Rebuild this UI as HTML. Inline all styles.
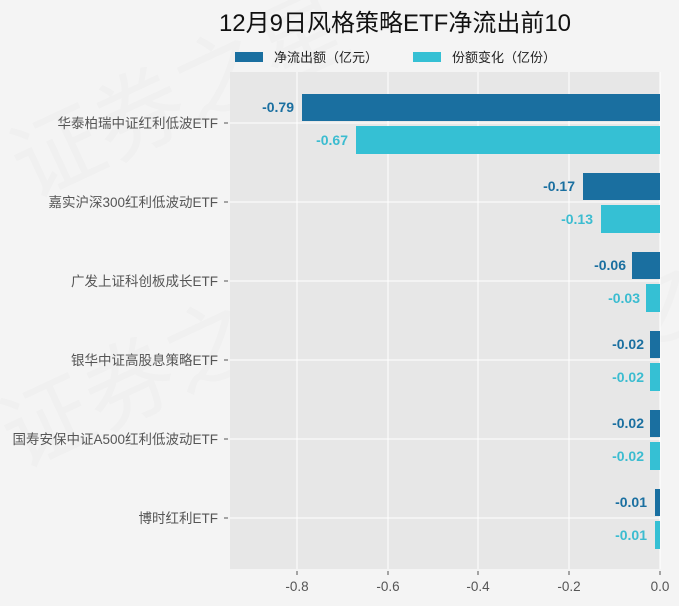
<!DOCTYPE html>
<html><head><meta charset="utf-8"><style>
body{margin:0;background:#f4f4f4;}
svg{display:block;font-family:"Liberation Sans","Noto Sans CJK SC",sans-serif;}
</style></head><body>
<svg width="679" height="606" viewBox="0 0 679 606">
<rect width="679" height="606" fill="#f4f4f4"/>
<g opacity="0.5">
<text x="30" y="200" font-size="90" fill="#ececec" transform="rotate(-25 30 200)">证券之星</text>
<text x="20" y="470" font-size="90" fill="#ececec" transform="rotate(-25 20 470)">证券之星</text>
<text x="470" y="430" font-size="90" fill="#ececec" transform="rotate(-25 470 430)">证券之星</text>
</g>
<text x="395" y="31" font-size="24" fill="#111" text-anchor="middle">12月9日风格策略ETF净流出前10</text>
<rect x="235" y="52" width="28" height="10" fill="#1a6fa0"/>
<text x="274" y="62" font-size="13" fill="#222">净流出额（亿元）</text>
<rect x="413" y="52" width="28" height="10" fill="#35c0d4"/>
<text x="452" y="62" font-size="13" fill="#222">份额变化（亿份）</text>
<rect x="230" y="72" width="430" height="497" fill="#e5e5e5" opacity="0.9"/>
<g stroke="#fff" stroke-width="1">
<line x1="297" y1="72" x2="297" y2="569"/><line x1="388" y1="72" x2="388" y2="569"/>
<line x1="478" y1="72" x2="478" y2="569"/><line x1="569" y1="72" x2="569" y2="569"/>
<line x1="660" y1="72" x2="660" y2="569"/>
<line x1="230" y1="123" x2="660" y2="123"/><line x1="230" y1="202" x2="660" y2="202"/>
<line x1="230" y1="281" x2="660" y2="281"/><line x1="230" y1="360" x2="660" y2="360"/>
<line x1="230" y1="439" x2="660" y2="439"/><line x1="230" y1="518" x2="660" y2="518"/>
</g>
<g stroke="#555"><line x1="224" y1="123" x2="228" y2="123"/><line x1="224" y1="202" x2="228" y2="202"/><line x1="224" y1="281" x2="228" y2="281"/><line x1="224" y1="360" x2="228" y2="360"/><line x1="224" y1="439" x2="228" y2="439"/><line x1="224" y1="518" x2="228" y2="518"/>
<line x1="297" y1="571" x2="297" y2="575"/><line x1="388" y1="571" x2="388" y2="575"/><line x1="478" y1="571" x2="478" y2="575"/><line x1="569" y1="571" x2="569" y2="575"/><line x1="660" y1="571" x2="660" y2="575"/></g>
<g font-size="13.5" fill="#555" text-anchor="end">
<text x="218" y="128">华泰柏瑞中证红利低波ETF</text>
<text x="218" y="207">嘉实沪深300红利低波动ETF</text>
<text x="218" y="286">广发上证科创板成长ETF</text>
<text x="218" y="365">银华中证高股息策略ETF</text>
<text x="218" y="444">国寿安保中证A500红利低波动ETF</text>
<text x="218" y="523">博时红利ETF</text>
</g>
<g font-size="13.5" fill="#555" text-anchor="middle">
<text x="297" y="591">-0.8</text><text x="388" y="591">-0.6</text><text x="478" y="591">-0.4</text><text x="569" y="591">-0.2</text><text x="660" y="591">0.0</text>
</g>
<g fill="#1a6fa0">
<rect x="302" y="94" width="358" height="27"/>
<rect x="583" y="173" width="77" height="27"/>
<rect x="632" y="252" width="28" height="27"/>
<rect x="650" y="331" width="10" height="27"/>
<rect x="650" y="410" width="10" height="27"/>
<rect x="655" y="489" width="5" height="27"/>
</g>
<g fill="#35c0d4">
<rect x="356" y="126" width="304" height="28"/>
<rect x="601" y="205" width="59" height="28"/>
<rect x="646" y="284" width="14" height="28"/>
<rect x="650" y="363" width="10" height="28"/>
<rect x="650" y="442" width="10" height="28"/>
<rect x="655" y="521" width="5" height="28"/>
</g>
<g font-size="14" font-weight="bold" text-anchor="end" fill="#1a6fa0">
<text x="294" y="112">-0.79</text><text x="575" y="191">-0.17</text><text x="626" y="270">-0.06</text><text x="644" y="349">-0.02</text><text x="644" y="428">-0.02</text><text x="647" y="507">-0.01</text>
</g>
<g font-size="14" font-weight="bold" text-anchor="end" fill="#3bbcd0">
<text x="348" y="145">-0.67</text><text x="593" y="224">-0.13</text><text x="640" y="303">-0.03</text><text x="644" y="382">-0.02</text><text x="644" y="461">-0.02</text><text x="647" y="540">-0.01</text>
</g>
</svg>
</body></html>
